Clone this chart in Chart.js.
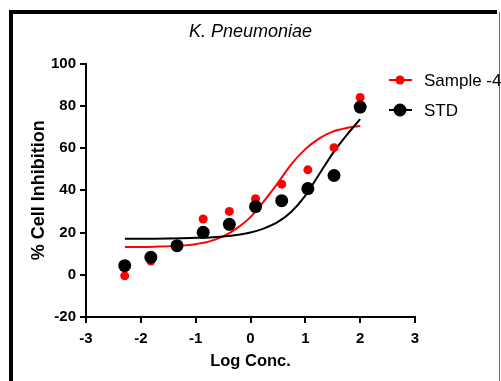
<!DOCTYPE html>
<html>
<head>
<meta charset="utf-8">
<script src="https://cdn.jsdelivr.net/npm/chart.js@4.4.1/dist/chart.umd.min.js"></script>
<style>
  html, body { margin: 0; padding: 0; background: #fff; }
  #wrap { width: 501px; height: 381px; position: relative; }
</style>
</head>
<body>
<div id="wrap"><canvas id="myChart" width="501" height="381"></canvas></div>
<script>
// log concentrations (3-fold dilutions)
var logConc = [-2.294, -1.817, -1.340, -0.863, -0.386, 0.092, 0.569, 1.046, 1.523, 2.0];
var sampleValues = [-0.5, 6.5, 14, 26.4, 30, 36, 42.9, 49.7, 60.2, 84];
var stdValues = [4.3, 8.3, 13.8, 20.1, 23.9, 32.3, 35.1, 40.8, 47, 79.4];

// fitted curves
var curveX = [-2.29, -1.75, -1.25, -1.0, -0.75, -0.5, -0.25, 0, 0.25, 0.5, 0.75, 1.0, 1.25, 1.5, 1.75, 2.0];
var sampleFit = [13.1, 13.3, 13.8, 14.5, 15.8, 18.2, 22, 27.3, 35, 43.5, 52.5, 59.5, 64.5, 67.8, 69.5, 70.5];
var stdFit = [17.0, 17.1, 17.3, 17.5, 17.7, 18.1, 18.8, 20, 22, 25, 30, 37.5, 47.5, 57.5, 66, 73.7];

var xTicks = [-3, -2, -1, 0, 1, 2, 3];
var yTicks = [-20, 0, 20, 40, 60, 80, 100];

var seriesNames = ['Sample -4', 'STD'];
var seriesColors = ['#ff0000', '#000000'];

function toPoints(xs, ys) {
    var out = [];
    for (let i = 0; i < xs.length; i++) {
        out.push({x: xs[i], y: ys[i]});
    }
    return out;
}

var plain = "'Liberation Sans', Arial, sans-serif";

// black frame round the figure
var framePlugin = {
    id: 'frame',
    beforeDraw: function(chart) {
        var ctx = chart.ctx;
        ctx.save();
        ctx.fillStyle = '#fff';
        ctx.fillRect(0, 0, chart.width, chart.height);
        ctx.fillStyle = '#000';
        ctx.fillRect(9, 10, 4, chart.height - 10);
        ctx.fillRect(9, 10, 488, 4);
        ctx.fillStyle = '#666';
        ctx.fillRect(499, 12, 1, chart.height - 12);
        ctx.restore();
    }
};

// legend: line with a dot, then the name
var legendPlugin = {
    id: 'sideLegend',
    afterDraw: function(chart) {
        var ctx = chart.ctx;
        var rows = [{y: 80, r: 4.5}, {y: 110, r: 6.5}];
        ctx.save();
        seriesNames.forEach((name, i) => {
            var y = rows[i].y;
            ctx.strokeStyle = seriesColors[i];
            ctx.lineWidth = 2;
            ctx.beginPath();
            ctx.moveTo(389, y);
            ctx.lineTo(412, y);
            ctx.stroke();
            ctx.fillStyle = seriesColors[i];
            ctx.beginPath();
            ctx.arc(400, y, rows[i].r, 0, Math.PI * 2);
            ctx.fill();
            ctx.fillStyle = '#000';
            ctx.font = '17px ' + plain;
            ctx.textBaseline = 'middle';
            ctx.textAlign = 'left';
            ctx.fillText(name, 424, y + 1);
        });
        ctx.restore();
    }
};

var ctx = document.getElementById('myChart');
var chart = new Chart(ctx, {
    type: 'scatter',
    data: {
        datasets: [
            {
                label: seriesNames[1] + ' fit',
                data: toPoints(curveX, stdFit),
                showLine: true,
                borderColor: seriesColors[1],
                borderWidth: 2,
                pointRadius: 0,
                cubicInterpolationMode: 'monotone',
                order: 3
            },
            {
                label: seriesNames[0] + ' fit',
                data: toPoints(curveX, sampleFit),
                showLine: true,
                borderColor: seriesColors[0],
                borderWidth: 2,
                pointRadius: 0,
                cubicInterpolationMode: 'monotone',
                order: 4
            },
            {
                label: seriesNames[0],
                data: toPoints(logConc, sampleValues),
                backgroundColor: seriesColors[0],
                borderColor: seriesColors[0],
                pointRadius: 4.5,
                pointBorderWidth: 0,
                order: 2
            },
            {
                label: seriesNames[1],
                data: toPoints(logConc, stdValues),
                backgroundColor: seriesColors[1],
                borderColor: seriesColors[1],
                pointRadius: 6.5,
                pointBorderWidth: 0,
                order: 1
            }
        ]
    },
    options: {
        responsive: false,
        animation: false,
        layout: {
            padding: {left: 14, right: 14, top: 13, bottom: 3}
        },
        plugins: {
            legend: {display: false},
            tooltip: {enabled: false},
            title: {
                display: true,
                text: 'K. Pneumoniae',
                color: '#000',
                font: {family: plain, size: 18, style: 'italic', weight: 'normal'},
                padding: {top: 8, bottom: 21}
            }
        },
        scales: {
            x: {
                type: 'linear',
                min: -3,
                max: 3,
                afterBuildTicks: function(scale) {
                    scale.ticks = xTicks.map(v => ({value: v}));
                },
                afterFit: function(scale) {
                    scale.height = 61;
                },
                grid: {drawOnChartArea: false, drawTicks: true, tickLength: 6, color: '#000', lineWidth: 2},
                border: {display: true, color: '#000', width: 2},
                ticks: {
                    color: '#000',
                    padding: 7,
                    font: {family: plain, size: 15, weight: 'bold'}
                },
                title: {
                    display: true,
                    text: 'Log Conc.',
                    color: '#000',
                    font: {family: plain, size: 16.5, weight: 'bold'},
                    padding: {top: 0, bottom: 7}
                }
            },
            y: {
                type: 'linear',
                min: -20,
                max: 100,
                afterBuildTicks: function(scale) {
                    scale.ticks = yTicks.map(v => ({value: v}));
                },
                afterFit: function(scale) {
                    scale.width = 72;
                },
                grid: {drawOnChartArea: false, drawTicks: true, tickLength: 6, color: '#000', lineWidth: 2},
                border: {display: true, color: '#000', width: 2},
                ticks: {
                    color: '#000',
                    padding: 4,
                    font: {family: plain, size: 15, weight: 'bold'}
                },
                title: {
                    display: true,
                    text: '% Cell Inhibition',
                    color: '#000',
                    font: {family: plain, size: 18, weight: 'bold'},
                    padding: {top: 14, bottom: 0}
                }
            },
            // empty space on the right, where the legend sits
            yRight: {
                type: 'linear',
                position: 'right',
                min: -20,
                max: 100,
                afterFit: function(scale) {
                    scale.width = 72;
                },
                grid: {display: false},
                border: {display: false},
                ticks: {display: false}
            }
        }
    },
    plugins: [framePlugin, legendPlugin]
});
</script>
</body>
</html>
